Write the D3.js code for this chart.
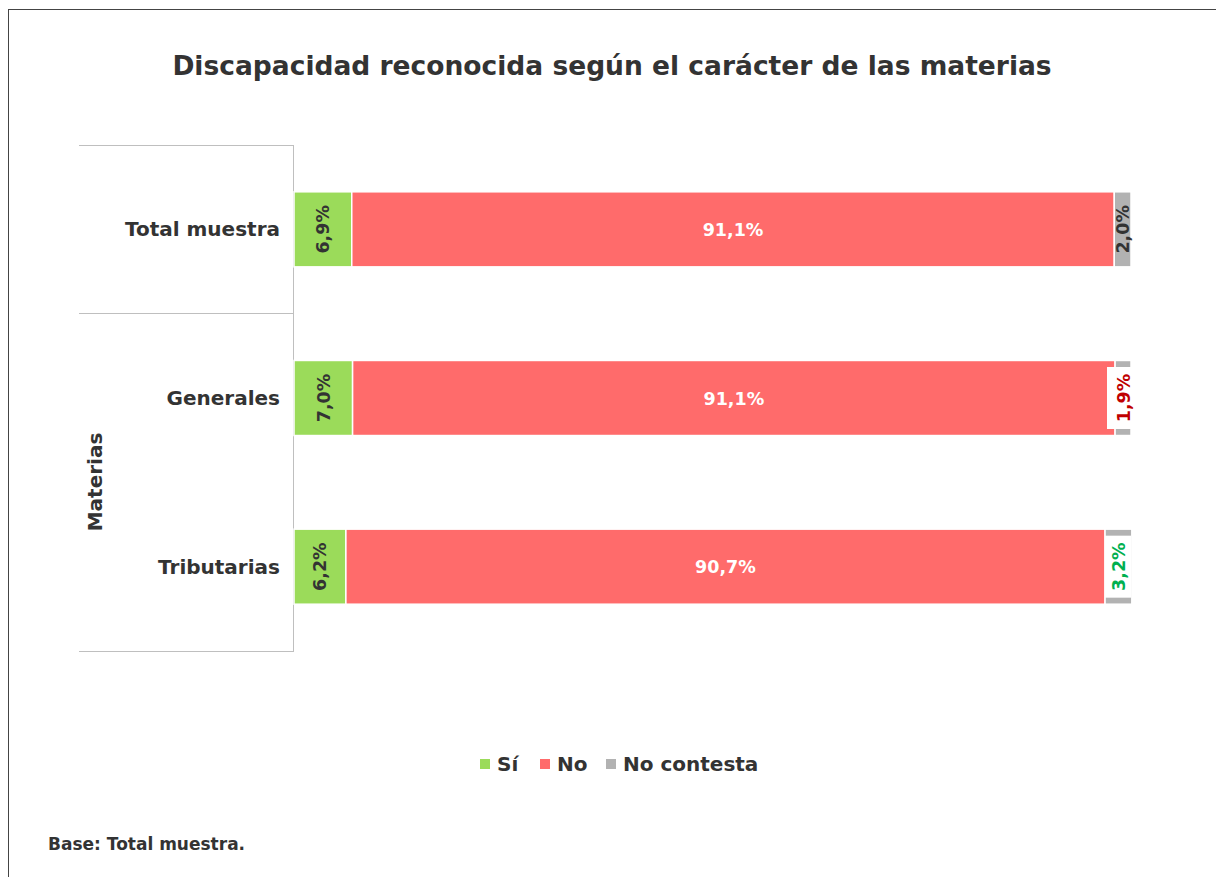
<!DOCTYPE html>
<html><head><meta charset="utf-8">
<script src="https://cdn.jsdelivr.net/npm/d3@7"></script>
<style>
html,body{margin:0;padding:0;background:#fff;}
text{font-family:"DejaVu Sans",Verdana,sans-serif;font-weight:bold;}
</style></head>
<body><svg id="chart" width="1216" height="877"></svg>
<script>
const title = "Discapacidad reconocida según el carácter de las materias";
const categories = ["Total muestra", "Generales", "Tributarias"];
const series = ["Sí", "No", "No contesta"];
const siValues = [6.9, 7.0, 6.2];
const noValues = [91.1, 91.1, 90.7];
const ncValues = [2.0, 1.9, 3.2];
const labelsSi = ["6,9%", "7,0%", "6,2%"];
const labelsNo = ["91,1%", "91,1%", "90,7%"];
const labelsNc = ["2,0%", "1,9%", "3,2%"];
const ncLabelColors = ["#333333", "#C00000", "#00B050"];
const ncLabelBoxed = [false, true, true];
const colors = ["#9BDB5A", "#FF6B6B", "#B2B2B2"];
const axisTitle = "Materias";
const footer = "Base: Total muestra.";

const svg = d3.select("#chart");
svg.append("rect").attr("x", 8.5).attr("y", 9.5).attr("width", 1216).attr("height", 877)
  .attr("fill", "none").attr("stroke", "#444").attr("stroke-width", 1);

svg.append("text").attr("x", 612).attr("y", 75).attr("text-anchor", "middle")
  .attr("font-size", 26.5).attr("fill", "#333").text(title);

const x = d3.scaleLinear().domain([0, 100]).range([294, 1131]);
const y = d3.scaleBand().domain(categories).range([145, 651]).paddingInner(0.555).paddingOuter(0.2775);

const gl = svg.append("g").attr("stroke", "#BFBFBF").attr("stroke-width", 1);
gl.append("line").attr("x1", 79).attr("x2", 293.5).attr("y1", 145.5).attr("y2", 145.5);
gl.append("line").attr("x1", 79).attr("x2", 293.5).attr("y1", 313.5).attr("y2", 313.5);
gl.append("line").attr("x1", 79).attr("x2", 293.5).attr("y1", 651.5).attr("y2", 651.5);
gl.append("line").attr("x1", 293.5).attr("x2", 293.5).attr("y1", 145).attr("y2", 652);

const rows = categories.map((c, i) => ({
  cat: c,
  segs: [
    {v: siValues[i], s: 0, label: labelsSi[i]},
    {v: noValues[i], s: 1, label: labelsNo[i]},
    {v: ncValues[i], s: 2, label: labelsNc[i]}
  ]
}));
rows.forEach(r => { let acc = 0; r.segs.forEach(s => { s.x0 = acc; acc += s.v; s.x1 = acc; }); });

const bh = y.bandwidth();
const g = svg.append("g");
rows.forEach((r, i) => {
  const yy = y(r.cat);
  r.segs.forEach(s => {
    g.append("rect").attr("x", x(s.x0)).attr("y", yy).attr("width", x(s.x1) - x(s.x0)).attr("height", bh)
      .attr("fill", colors[s.s]).attr("stroke", "#fff").attr("stroke-width", 1.5);
  });
  const cy = yy + bh / 2;
  const s0 = r.segs[0];
  const cx0 = (x(s0.x0) + x(s0.x1)) / 2;
  g.append("text").attr("transform", `translate(${cx0 + 6.5},${cy}) rotate(-90)`).attr("text-anchor", "middle")
    .attr("font-size", 17.5).attr("fill", "#333").text(s0.label);
  const s1 = r.segs[1];
  g.append("text").attr("x", (x(s1.x0) + x(s1.x1)) / 2).attr("y", cy + 6.5).attr("text-anchor", "middle")
    .attr("font-size", 17.5).attr("fill", "#fff").text(s1.label);
  const s2 = r.segs[2];
  const xa = x(s2.x0), xb = x(Math.min(s2.x1, 100));
  const cx2 = (xa + xb) / 2;
  if (ncLabelBoxed[i]) {
    const w = Math.max(24, xb - xa);
    g.append("rect").attr("x", xb - w).attr("y", cy - 31).attr("width", w).attr("height", 62).attr("fill", "#fff");
  }
  g.append("text").attr("transform", `translate(${cx2 + 6.5},${cy}) rotate(-90)`).attr("text-anchor", "middle")
    .attr("font-size", 17.5).attr("fill", ncLabelColors[i]).text(s2.label);
});

svg.append("g").selectAll("text").data(categories).join("text")
  .attr("x", 280).attr("y", d => y(d) + bh / 2 + 7).attr("text-anchor", "end")
  .attr("font-size", 20).attr("fill", "#333").text(d => d);

svg.append("text").attr("transform", "translate(102,482) rotate(-90)").attr("text-anchor", "middle")
  .attr("font-size", 20).attr("fill", "#333").text(axisTitle);

const legX = [480, 540, 606];
const lg = svg.append("g");
series.forEach((s, i) => {
  lg.append("rect").attr("x", legX[i]).attr("y", 759).attr("width", 10).attr("height", 10).attr("fill", colors[i]);
  lg.append("text").attr("x", legX[i] + 17).attr("y", 771).attr("font-size", 20).attr("fill", "#333").text(s);
});

svg.append("text").attr("x", 48).attr("y", 850).attr("font-size", 17).attr("fill", "#333").text(footer);
</script></body></html>
